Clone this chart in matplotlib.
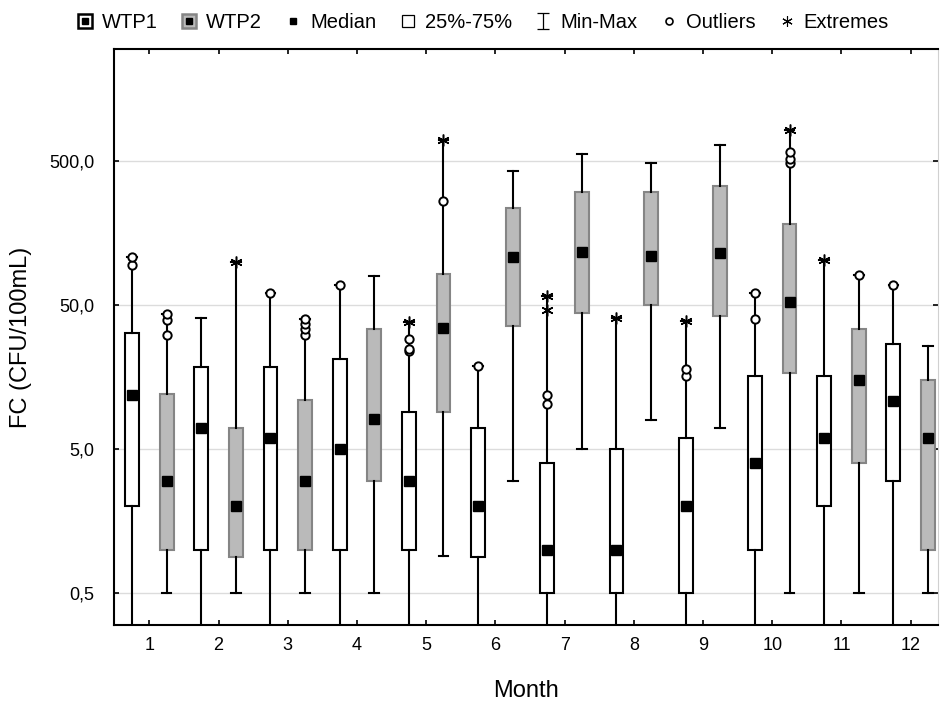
import matplotlib
matplotlib.use("Agg")
import matplotlib.pyplot as plt
from matplotlib.lines import Line2D
from matplotlib.path import Path
from matplotlib.ticker import FixedLocator, FuncFormatter, NullLocator

plt.rcParams['font.family'] = ['Liberation Sans', 'DejaVu Sans']

months = [1, 2, 3, 4, 5, 6, 7, 8, 9, 10, 11, 12]

# WTP1 (white boxes) - lower whiskers run below the axis
wtp1_min = [0.1, 0.1, 0.1, 0.1, 0.1, 0.1, 0.1, 0.1, 0.1, 0.1, 0.1, 0.1]
wtp1_q1 = [2.0, 1.0, 1.0, 1.0, 1.0, 0.89, 0.5, 0.5, 0.5, 1.0, 2.0, 3.0]
wtp1_med = [11.9, 7.0, 6.0, 5.0, 3.0, 2.0, 1.0, 1.0, 2.0, 4.0, 6.0, 10.8]
wtp1_q3 = [32.0, 18.7, 18.7, 21.0, 9.0, 7.0, 4.0, 5.0, 6.0, 16.1, 16.1, 27.0]
wtp1_max = [108, 40.6, 60.5, 69, 37.9, 18.9, 57.4, 40.6, 38.5, 60.3, 103, 68.6]
wtp1_outliers = {1: [95, 108], 3: [60.5], 4: [69], 5: [23.8, 24.7, 29.0], 6: [18.9],
                 7: [10.2, 11.9], 9: [16.2, 18.1], 10: [40.2, 60.3], 12: [68.6]}
wtp1_extremes = {5: [37.9], 7: [46.4, 57.4], 8: [40.6], 9: [38.5], 11: [103]}

# WTP2 (grey boxes)
wtp2_min = [0.5, 0.5, 0.5, 0.5, 0.9, 3.0, 5.0, 7.9, 7.0, 0.5, 0.5, 0.5]
wtp2_q1 = [1.0, 0.89, 1.0, 3.0, 9.0, 35.5, 44, 50, 41.8, 16.9, 4.0, 1.0]
wtp2_med = [3.0, 2.0, 3.0, 8.1, 34.4, 108, 116, 109, 115, 52.4, 15.0, 6.0]
wtp2_q3 = [12.0, 7.0, 10.9, 34, 82.5, 236, 303, 303, 333, 184, 34, 15]
wtp2_max = [43, 100, 40, 79, 703, 428, 560, 486, 644, 820, 80.7, 26]
wtp2_outliers = {1: [31.1, 39.6, 43], 3: [31, 34, 37, 40], 5: [265],
                 10: [486, 514, 578], 11: [80.7]}
wtp2_extremes = {2: [100], 5: [703], 10: [820]}

ytick_vals = [0.5, 5, 50, 500]

legend_labels = ["WTP1", "WTP2", "Median", "25%-75%", "Min-Max", "Outliers", "Extremes"]

GREY = '#bababa'
GREY_EDGE = '#858585'


def make_stats(lo, q1, med, q3, hi):
    return [dict(whislo=a, q1=b, med=c, q3=d, whishi=e, mean=c, fliers=[])
            for a, b, c, d, e in zip(lo, q1, med, q3, hi)]


def draw_group(ax, stats, positions, face, edge):
    ax.bxp(stats, positions=positions, widths=0.2, capwidths=0.14,
           patch_artist=True, showmeans=True, showfliers=False, manage_ticks=False,
           boxprops=dict(facecolor=face, edgecolor=edge, linewidth=1.5),
           whiskerprops=dict(color='black', linewidth=1.5),
           capprops=dict(color='black', linewidth=1.5),
           medianprops=dict(linewidth=0),
           meanprops=dict(marker='s', markerfacecolor='black', markeredgecolor='black',
                          markersize=6.5),
           zorder=3)


def draw_points(ax, pts, offset, marker, **kw):
    xs, ys = [], []
    for m, vals in pts.items():
        for v in vals:
            xs.append(m + offset)
            ys.append(v)
    ax.plot(xs, ys, ls='', marker=marker, zorder=4, **kw)


fig = plt.figure(figsize=(9.4, 7.02), dpi=100)
ax = fig.add_axes([114 / 940, 1 - 625 / 702, 824 / 940, 576 / 702])
ax.set_yscale('log')

pos1 = [m - 0.25 for m in months]
pos2 = [m + 0.25 for m in months]
draw_group(ax, make_stats(wtp1_min, wtp1_q1, wtp1_med, wtp1_q3, wtp1_max), pos1, 'white', 'black')
draw_group(ax, make_stats(wtp2_min, wtp2_q1, wtp2_med, wtp2_q3, wtp2_max), pos2, GREY, GREY_EDGE)

circ = dict(markersize=6, markerfacecolor='white', markeredgecolor='black', markeredgewidth=1.4)
star = dict(markersize=8.5, color='black', markeredgewidth=1.1)
draw_points(ax, wtp1_outliers, -0.25, 'o', **circ)
draw_points(ax, wtp2_outliers, 0.25, 'o', **circ)
draw_points(ax, wtp1_extremes, -0.25, (6, 2, 0), **star)
draw_points(ax, wtp2_extremes, 0.25, (6, 2, 0), **star)

ax.set_xlim(0.49, 12.395)
ax.set_ylim(0.3, 3000)
ax.set_xticks(months)
ax.set_xticklabels([str(m) for m in months])
ax.yaxis.set_major_locator(FixedLocator(ytick_vals))
ax.yaxis.set_major_formatter(FuncFormatter(lambda v, p: f"{v:.1f}".replace('.', ',')))
ax.yaxis.set_minor_locator(NullLocator())
ax.grid(axis='y', color='#dcdcdc', linewidth=1.0, zorder=0)
ax.set_axisbelow(True)

ax.tick_params(axis='both', direction='in', length=3.5, width=1.2, labelsize=13,
               top=True, right=True)
ax.tick_params(axis='y', pad=14)
ax.tick_params(axis='x', pad=9)
for side in ['left', 'bottom', 'top']:
    ax.spines[side].set_linewidth(1.5)
ax.spines['right'].set_color('#d0d0d0')

ax.set_ylabel("FC (CFU/100mL)", fontsize=17)
ax.yaxis.set_label_coords(-0.1, 0.5)
ax.set_xlabel("Month", fontsize=17)
ax.xaxis.set_label_coords(0.5, -0.095)

# legend
ibeam = Path([(-0.8, 1), (0.8, 1), (0, 1), (0, -1), (-0.8, -1), (0.8, -1)],
             [Path.MOVETO, Path.LINETO, Path.MOVETO, Path.LINETO, Path.MOVETO, Path.LINETO])
handles = [
    (Line2D([], [], ls='', marker='s', markersize=10, markerfacecolor='white',
            markeredgecolor='black', markeredgewidth=1.8),
     Line2D([], [], ls='', marker='s', markersize=4.5, color='black')),
    (Line2D([], [], ls='', marker='s', markersize=10, markerfacecolor=GREY,
            markeredgecolor=GREY_EDGE, markeredgewidth=1.8),
     Line2D([], [], ls='', marker='s', markersize=4.5, color='black')),
    Line2D([], [], ls='', marker='s', markersize=4, color='black'),
    Line2D([], [], ls='', marker='s', markersize=8, markerfacecolor='white',
           markeredgecolor='black', markeredgewidth=0.9),
    Line2D([], [], ls='', marker=ibeam, markersize=11, markerfacecolor='none',
           markeredgecolor='black', markeredgewidth=0.9),
    Line2D([], [], ls='', marker='o', markersize=5, markerfacecolor='white',
           markeredgecolor='black', markeredgewidth=1.2),
    Line2D([], [], ls='', marker=(6, 2, 0), markersize=7.5, color='black', markeredgewidth=0.8),
]
fig.legend(handles, legend_labels, loc='center', bbox_to_anchor=(482 / 940, 1 - 23 / 702),
           ncol=7, frameon=False, fontsize=14.5, handlelength=1.0, handletextpad=0.35,
           columnspacing=1.05)

fig.savefig("out.png", dpi=100)
